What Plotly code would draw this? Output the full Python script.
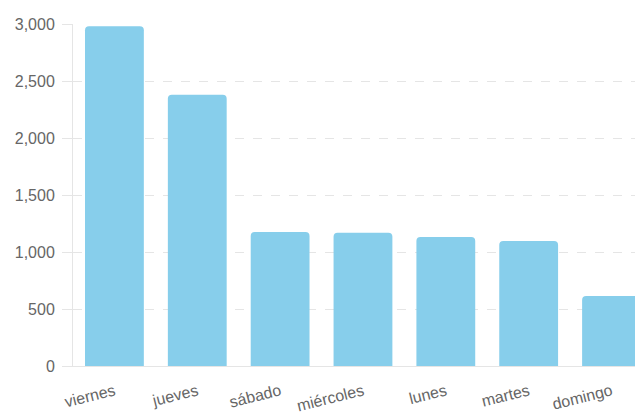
import plotly.graph_objects as go

dias = ["viernes", "jueves", "sábado", "miércoles", "lunes", "martes", "domingo"]
valores = [2980, 2380, 1175, 1168, 1132, 1097, 614]
y_ticks = [0, 500, 1000, 1500, 2000, 2500, 3000]
y_tick_labels = ["0", "500", "1,000", "1,500", "2,000", "2,500", "3,000"]

fig = go.Figure(
    go.Bar(
        x=dias,
        y=valores,
        marker=dict(color="#87CEEB", cornerradius=4, line=dict(width=0)),
        width=0.71,
    )
)

# page body has an 8px default margin; size the figure so it fills the window
fig.update_layout(
    width=635,
    height=406,
    margin=dict(l=65, r=0, t=16, b=48, autoexpand=False),
    plot_bgcolor="white",
    paper_bgcolor="white",
    showlegend=False,
    font=dict(family="Liberation Sans, Arial, sans-serif", color="#666666"),
)

fig.update_xaxes(
    range=[-0.5, 6.38],
    tickangle=-14,
    tickfont=dict(size=16, color="#666666"),
    showline=True,
    linecolor="#e5e5e5",
    linewidth=1,
    showgrid=False,
    ticks="outside",
    ticklen=9,
    tickcolor="rgba(0,0,0,0)",
    automargin=False,
)

fig.update_yaxes(
    range=[0, 3000],
    tickvals=y_ticks,
    ticktext=y_tick_labels,
    tickfont=dict(size=16, color="#666666"),
    showgrid=True,
    gridcolor="#e5e5e5",
    griddash="dash",
    gridwidth=1,
    showline=True,
    linecolor="#e5e5e5",
    linewidth=1,
    ticks="outside",
    ticklen=10,
    tickcolor="#e5e5e5",
    ticklabelstandoff=4,
    zeroline=False,
    automargin=False,
)

fig.write_html("out.html")
